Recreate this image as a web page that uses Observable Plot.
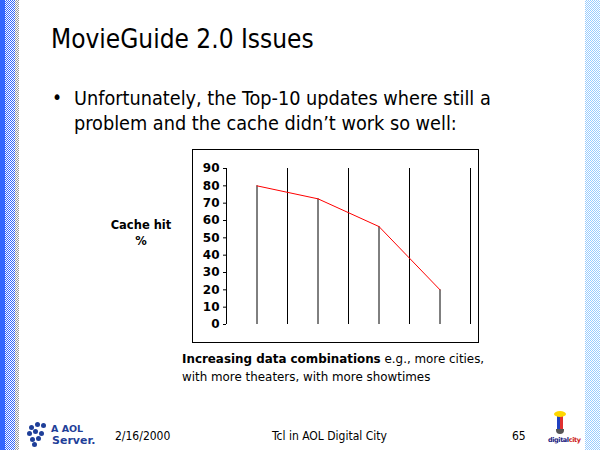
<!DOCTYPE html>
<html>
<head>
<meta charset="utf-8">
<script src="https://cdn.jsdelivr.net/npm/d3@7"></script>
<script src="https://cdn.jsdelivr.net/npm/@observablehq/plot@0.6"></script>
<style>
  html, body { margin: 0; padding: 0; background: #fff; }
  #slide { position: relative; width: 600px; height: 450px; overflow: hidden; background: #fff; font-family: "DejaVu Sans Condensed", "DejaVu Sans", sans-serif; color: #000; }
  .abs { position: absolute; white-space: nowrap; }
  #stripBlue { left: 0; top: 0; width: 5px; height: 450px; background: #3366ff; }
  #stripChk { left: 5px; top: 0; width: 10px; height: 450px; background: repeating-conic-gradient(#3366ff 0 25%, #fff 0 50%) 0 0 / 2px 2px; }
  #stripGray { left: 15px; top: 0; width: 4px; height: 450px; background: repeating-conic-gradient(#999 0 25%, #fff 0 50%) 0 0 / 2px 2px; }
  #stripRight { left: 585px; top: 0; width: 15px; height: 450px; background: repeating-conic-gradient(#99ccff 0 25%, #fff 0 50%) 0 0 / 2px 2px; }
  #title { left: 51px; top: 24px; font-size: 26px; }
  #bullet { left: 52px; top: 86px; font-size: 19px; }
  #b1 { left: 74px; top: 86px; font-size: 19.7px; line-height: 25px; }
  #ylabel { left: 100px; top: 217px; width: 82px; text-align: center; font-family: "DejaVu Sans", sans-serif; font-weight: bold; font-size: 11.5px; line-height: 16px; }
  #xlabel { left: 182px; top: 350px; font-family: "DejaVu Sans", sans-serif; font-size: 11.9px; line-height: 18px; }
  #chartbox { left: 192px; top: 149px; width: 285px; height: 192px; border: 1px solid #000; }
  .foot { top: 429px; font-size: 12px; }
  #aol1 { left: 51px; top: 423px; font-family: "DejaVu Sans", sans-serif; font-weight: bold; font-size: 9.5px; color: #1f3f99; }
  #aol2 { left: 52px; top: 434px; font-family: "DejaVu Sans", sans-serif; font-weight: bold; font-size: 11px; color: #1f3f99; }
  .dot { position: absolute; width: 5px; height: 5px; border-radius: 50%; background: #1f3f99; }
  #dc { left: 548px; top: 436px; font-family: "DejaVu Sans", sans-serif; font-weight: bold; font-size: 6.5px; color: #202080; letter-spacing: -0.4px; }
</style>
</head>
<body>
<div id="slide">
  <div class="abs" id="stripBlue"></div>
  <div class="abs" id="stripChk"></div>
  <div class="abs" id="stripGray"></div>
  <div class="abs" id="stripRight"></div>

  <div class="abs" id="title">MovieGuide 2.0 Issues</div>
  <div class="abs" id="bullet">•</div>
  <div class="abs" id="b1">Unfortunately, the Top-10 updates where still a<br>problem and the cache didn’t work so well:</div>

  <div class="abs" id="ylabel">Cache hit<br>%</div>
  <div class="abs" id="chartbox"></div>
  <div class="abs" id="xlabel"><b>Increasing data combinations</b> e.g., more cities,<br>with more theaters, with more showtimes</div>

  <div class="dot" style="left:29px;top:425px"></div>
  <div class="dot" style="left:35px;top:422px"></div>
  <div class="dot" style="left:41px;top:423px"></div>
  <div class="dot" style="left:27px;top:431px"></div>
  <div class="dot" style="left:33px;top:429px"></div>
  <div class="dot" style="left:39px;top:431px"></div>
  <div class="dot" style="left:30px;top:437px"></div>
  <div class="dot" style="left:36px;top:436px"></div>
  <div class="dot" style="left:32px;top:442px"></div>
  <div class="abs" id="aol1">A AOL</div>
  <div class="abs" id="aol2">Server.</div>

  <div class="abs foot" style="left:115px">2/16/2000</div>
  <div class="abs foot" style="left:272px">Tcl in AOL Digital City</div>
  <div class="abs foot" style="left:512px">65</div>

  <div class="abs" style="left:557px;top:414px;width:6px;height:18px;background:linear-gradient(90deg,#2040c0 0 50%,#e03030 50% 100%)"></div>
  <div class="abs" style="left:554px;top:411px;width:12px;height:6px;background:#ffd700;border-radius:50%"></div>
  <div class="abs" style="left:556px;top:429px;width:8px;height:5px;background:#555;border-radius:0 0 4px 4px"></div>
  <div class="abs" id="dc">digital<span style="color:#cc2020">city</span></div>
</div>
<script>
const categories = [1, 2, 3, 4];
const hitRate = [80, 72.5, 56.5, 20];
const yTicks = [0, 10, 20, 30, 40, 50, 60, 70, 80, 90];

const data = categories.map((c, i) => ({x: c, y: hitRate[i]}));
const boundaries = categories.map(c => c + 0.5);
const xMin = categories[0] - 0.5;
const yMax = yTicks[yTicks.length - 1];

const chart = Plot.plot({
  width: 285,
  height: 192,
  marginLeft: 33,
  marginRight: 8,
  marginTop: 18,
  marginBottom: 18,
  style: {fontFamily: "DejaVu Sans, sans-serif", fontSize: "12px", fontWeight: "bold", color: "#000", background: "transparent"},
  x: {domain: [xMin, boundaries[boundaries.length - 1]], axis: null},
  y: {domain: [0, yMax], ticks: yTicks, tickSize: 3, tickPadding: 4, label: null},
  marks: [
    Plot.ruleX(boundaries, {y1: 0, y2: yMax, stroke: "#000", strokeWidth: 1}),
    Plot.ruleX([xMin], {y1: 0, y2: yMax, stroke: "#000", strokeWidth: 1}),
    Plot.ruleX(data, {x: "x", y1: 0, y2: "y", stroke: "#000", strokeWidth: 1}),
    Plot.line(data, {x: "x", y: "y", stroke: "#ff0000", strokeWidth: 1}),
    Plot.axisY({ticks: yTicks, tickSize: 3, tickPadding: 4, fill: "#000", stroke: "#000", label: null})
  ]
});
chart.style.display = "block";
document.getElementById("chartbox").appendChild(chart);
</script>
</body>
</html>
